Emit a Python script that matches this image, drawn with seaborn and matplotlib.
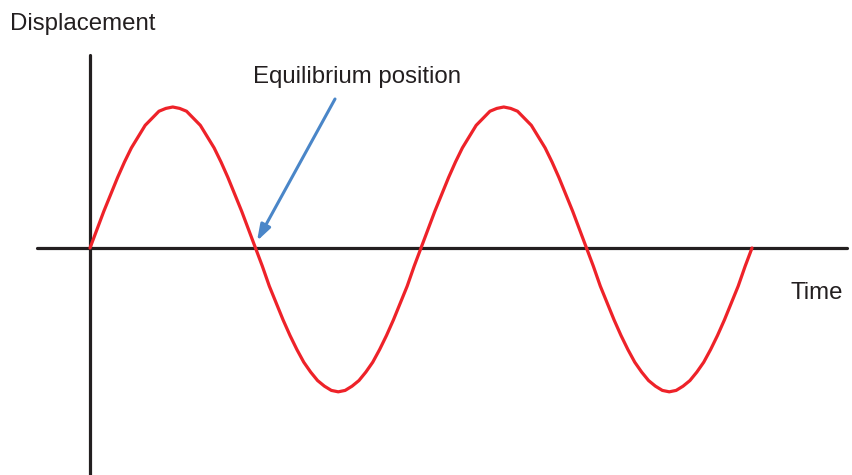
"""Displacement-time sketch of a wave, two full cycles about the equilibrium line."""
import matplotlib
matplotlib.use("Agg")
import matplotlib.pyplot as plt
import pandas as pd
import seaborn as sns

# displacement every 1/48 of a period (peak = 1)
half_up = [0, .13, .26, .38, .5, .61, .71, .79, .87, .92, .97, .99, 1,
           .99, .97, .92, .87, .79, .71, .61, .5, .38, .26, .13]
half_down = [0, -.13, -.27, -.39, -.51, -.62, -.72, -.81, -.88, -.94, -.98, -1.01, -1.02,
             -1.01, -.98, -.94, -.88, -.81, -.72, -.62, -.51, -.39, -.27, -.13]
displacement = half_up + half_down + half_up + half_down + [0]
# time step index, two periods of 48 steps
time = list(range(len(displacement)))

x_label = 'Time'
y_label = 'Displacement'
note = 'Equilibrium position'

W, H = 853, 475
sns.set_theme(style="white")
plt.rcParams['font.family'] = ['Liberation Sans', 'DejaVu Sans']

df = pd.DataFrame({'time': time, 'displacement': displacement})

fig = plt.figure(figsize=(W / 100, H / 100), dpi=100)
ax = fig.add_axes([0, 0, 1, 1])
ax.set_axis_off()

# pixel layout: origin at (90, 248), 96 steps across 662 px, peak 141 px tall
px = 662 / 96
ax.set_xlim(-90 / px, (W - 90) / px)
ax.set_ylim(-(H - 248) / 141, 248 / 141)

ax.axhline(0, xmin=37 / W, xmax=847 / W, color='#231f20', lw=2.3, zorder=2)
ax.axvline(0, ymin=0, ymax=(H - 55) / H, color='#231f20', lw=2.3, zorder=2)

sns.lineplot(data=df, x='time', y='displacement', ax=ax, color='#ee2229', lw=2.3,
             zorder=3, legend=False, solid_joinstyle='round')

fig.text(10 / W, 1 - 30 / H, y_label, fontsize=17.3, color='#231f20', va='baseline')
fig.text(791 / W, 1 - 299 / H, x_label, fontsize=17.3, color='#231f20', va='baseline')
fig.text(253 / W, 1 - 83 / H, note, fontsize=17.3, color='#231f20', va='baseline')

ax.annotate('', xy=(257 / W, 1 - 241 / H), xytext=(335 / W, 1 - 99 / H),
            xycoords='figure fraction', textcoords='figure fraction',
            arrowprops=dict(arrowstyle='-|>,head_length=0.6,head_width=0.2',
                            color='#4a86c8', lw=2.2, mutation_scale=16,
                            shrinkA=0, shrinkB=0))

plt.savefig('out.png', dpi=100)
